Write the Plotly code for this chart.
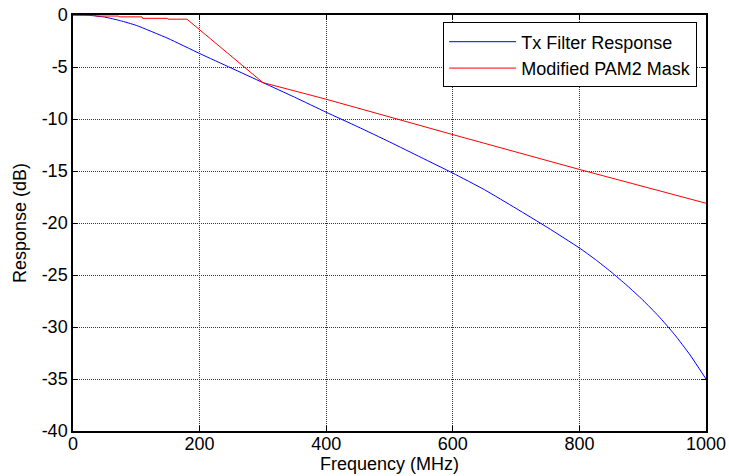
import plotly.graph_objects as go

# Tx filter response
tx_freq = [0, 25, 50, 75, 100, 150, 200, 250, 300, 350, 400, 450, 500, 550, 600,
           650, 700, 750, 800, 825, 850, 875, 900, 925, 950, 975, 1000]
tx_resp = [0, -0.03, -0.2, -0.55, -1.0, -2.25, -3.7, -5.1, -6.5, -7.9, -9.35, -10.75,
           -12.2, -13.7, -15.2, -16.8, -18.6, -20.45, -22.4, -23.5, -24.7, -26.0,
           -27.4, -28.95, -30.7, -32.7, -35.0]

# Modified PAM2 mask
mask_freq = [0, 35, 36, 72, 73, 109, 110, 149, 150, 180, 300, 400, 600, 800, 1000]
mask_resp = [0, 0, -0.1, -0.1, -0.18, -0.18, -0.32, -0.32, -0.4, -0.4, -6.5, -8.1,
             -11.5, -14.85, -18.1]

x_ticks = [0, 200, 400, 600, 800, 1000]
y_ticks = [0, -5, -10, -15, -20, -25, -30, -35, -40]

fig = go.Figure()
fig.add_trace(go.Scatter(x=tx_freq, y=tx_resp, mode="lines", name="Tx Filter Response",
                         line=dict(color="#0000ff", width=1, shape="spline", smoothing=0.5)))
fig.add_trace(go.Scatter(x=mask_freq, y=mask_resp, mode="lines", name="Modified PAM2 Mask",
                         line=dict(color="#ff0000", width=1)))

axis_common = dict(showline=True, linecolor="black", linewidth=1.5, mirror="ticks",
                   ticks="inside", ticklen=5, tickcolor="black", automargin=False,
                   showgrid=True, gridcolor="#333333", gridwidth=1, griddash="1px,1px",
                   zeroline=False, tickfont=dict(size=18, color="black"))

fig.update_xaxes(range=[0, 1000], tickvals=x_ticks, ticktext=[str(v) for v in x_ticks],
                 ticklabelstandoff=-4,
                 title=dict(text="Frequency (MHz)", font=dict(size=18, color="black"), standoff=0),
                 **axis_common)
fig.update_yaxes(range=[-40, 0], tickvals=y_ticks, ticktext=[str(v) for v in y_ticks],
                 title=dict(text="Response (dB)", font=dict(size=18, color="black"), standoff=10),
                 **axis_common)

fig.update_layout(
    width=729, height=476,
    margin=dict(l=73, r=23, t=15, b=45),
    paper_bgcolor="white", plot_bgcolor="white",
    font=dict(family="Arial, Liberation Sans, sans-serif", size=18, color="black"),
    legend=dict(x=0.986, y=0.982, xanchor="right", yanchor="top",
                bgcolor="white", bordercolor="black", borderwidth=1,
                font=dict(size=18, color="black"), tracegroupgap=0, itemwidth=67),
    showlegend=True,
)

fig.write_html("out.html")
